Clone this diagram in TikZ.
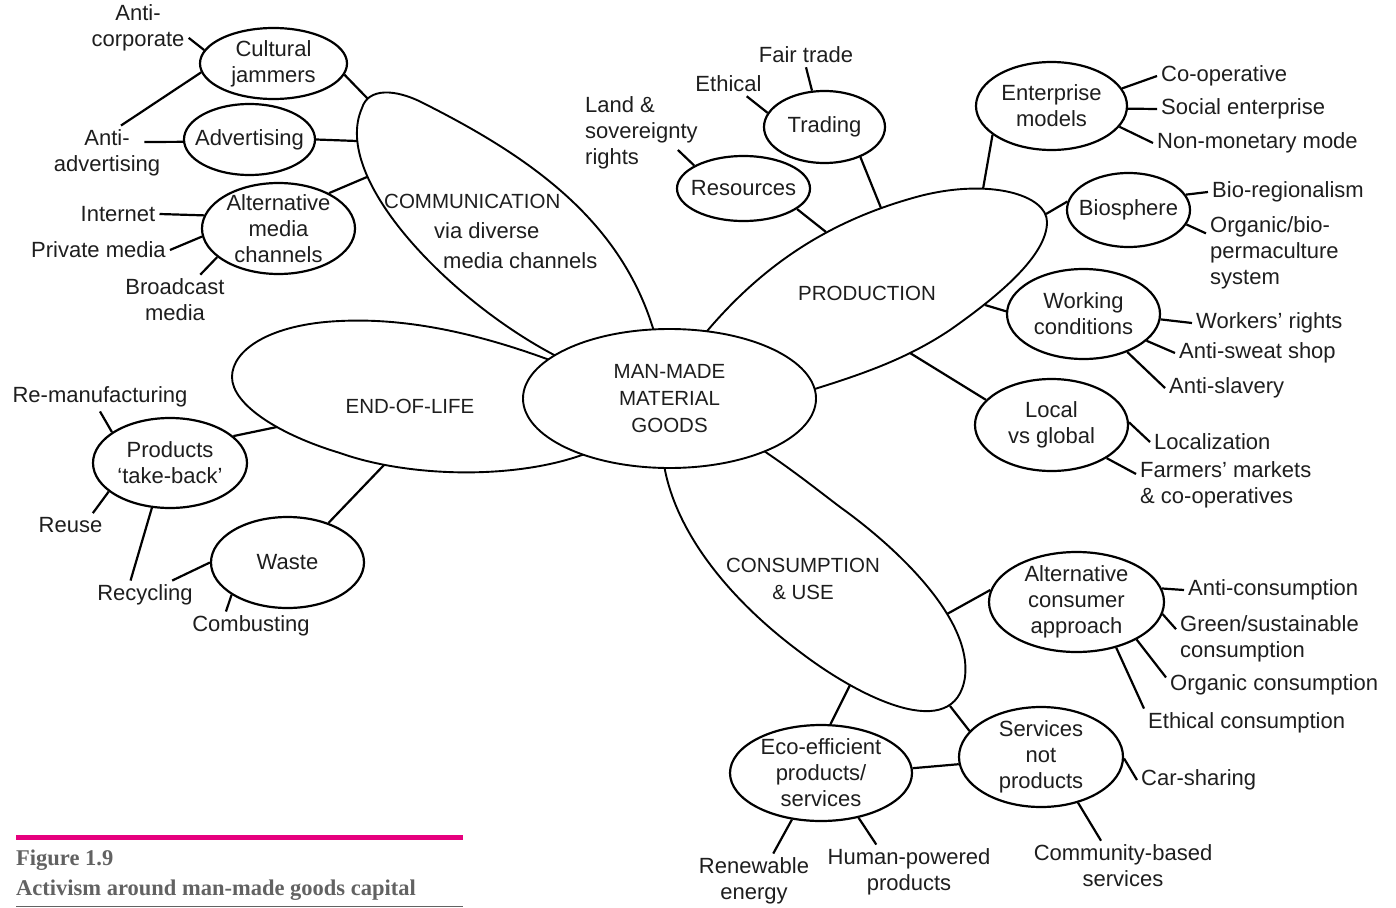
\documentclass[tikz,border=0pt]{standalone}
\usepackage{fontspec}
\setmainfont{Liberation Sans}
\newfontfamily\capfont{Liberation Serif}
\usepackage{xcolor}
\usepackage{tikz}
\usetikzlibrary{shapes.geometric, positioning}

\definecolor{figpink}{RGB}{230,0,126}
\definecolor{capgray}{RGB}{98,98,98}
\definecolor{ink}{RGB}{30,30,30}
\newcommand{\mapfont}{\fontsize{22}{26}\selectfont}
\newcommand{\bigfont}{\fontsize{20.5}{27}\selectfont}

\tikzset{
  bubble/.style={ellipse, draw, line width=2.2pt, fill=white, inner sep=-14pt, align=center},
  esize/.style 2 args={minimum width=#1, minimum height=#2},
  petal/.style={draw, line width=1.9pt, fill=white},
  leaf/.style={inner sep=4pt, align=center},
  lleaf/.style={inner sep=4pt, align=left, anchor=west},
  link/.style={line width=2.2pt},
}

\begin{document}
\begin{tikzpicture}[x=1pt, y=-1pt, font=\mapfont, text=ink]
    \useasboundingbox (0,0) rectangle (1396,907);

    % the four petals round the centre (their inner ends hide under the centre)
    \draw[petal] (620,390) -- (560,358) .. controls (455,305) and (330,180) .. (362,108)
        .. controls (368,88) and (395,88) .. (425,104)
        .. controls (532,158) and (623,222) .. (655,335) -- cycle;
    \draw[petal] (610,420) -- (555,362) .. controls (470,330) and (400,318) .. (340,321)
        .. controls (270,324) and (232,350) .. (232,377)
        .. controls (232,405) and (280,435) .. (340,453)
        .. controls (410,478) and (520,480) .. (590,452) -- cycle;
    \draw[petal] (760,400) -- (698,342) .. controls (760,265) and (830,220) .. (920,196)
        .. controls (990,178) and (1047,195) .. (1047,222)
        .. controls (1047,255) and (1000,295) .. (950,330)
        .. controls (905,360) and (860,375) .. (805,392) -- cycle;
    \draw[petal] (720,430) -- (663,458) .. controls (672,530) and (730,600) .. (800,652)
        .. controls (860,698) and (955,745) .. (965,677)
        .. controls (972,620) and (900,550) .. (840,507)
        .. controls (815,488) and (790,468) .. (755,445) -- cycle;

    \node[bubble, line width=1.9pt, esize={293pt}{139pt}, font=\bigfont] (goods) at (669.5,398.5) {MAN-MADE\\MATERIAL\\GOODS};

    \node[inner sep=0pt, align=left, anchor=west, font=\fontsize{22}{30}\selectfont] (commT) at (384,231)
        {{\bigfont COMMUNICATION}\\\hspace*{50pt}via diverse\\\hspace*{59pt}media channels};
    \node[font=\bigfont] (prodT) at (867,293) {PRODUCTION};
    \node[font=\bigfont] (eolT) at (410,406) {END-OF-LIFE};
    \node[align=center, font=\bigfont] (consT) at (803,579) {CONSUMPTION\\\& USE};

    % where the links meet the petals
    \coordinate (comm-cj) at (368,99);
    \coordinate (comm-adv) at (357,141);
    \coordinate (comm-amc) at (367,177);
    \coordinate (prod-trading) at (881,208);
    \coordinate (prod-res) at (826,232);
    \coordinate (prod-ent) at (983,189);
    \coordinate (prod-bio) at (1046,214);
    \coordinate (prod-work) at (985,305);
    \coordinate (prod-local) at (910,353);
    \coordinate (eol-take) at (277,427);
    \coordinate (eol-waste) at (384,465);
    \coordinate (cons-acons) at (947,614);
    \coordinate (cons-serv) at (950,706);
    \coordinate (cons-eco) at (850,685);

    % bubbles
    \node[bubble, esize={147pt}{71pt}] (cj) at (273.5,63.5) {Cultural\\jammers};
    \node[bubble, esize={131pt}{71pt}] (adv) at (249.5,139.5) {Advertising};
    \node[bubble, esize={153pt}{91pt}] (amc) at (278.5,228.5) {Alternative\\media\\channels};
    \node[bubble, esize={121pt}{72pt}] (trading) at (824.5,127) {Trading};
    \node[bubble, esize={133pt}{65pt}] (res) at (743.5,188.5) {Resources};
    \node[bubble, esize={151pt}{88pt}] (ent) at (1051.5,106) {Enterprise\\models};
    \node[bubble, esize={123pt}{74pt}] (bio) at (1128.5,210) {Biosphere};
    \node[bubble, esize={153pt}{90pt}] (work) at (1083.5,314) {Working\\conditions};
    \node[bubble, esize={153pt}{92pt}] (local) at (1051.5,425) {Local\\vs global};
    \node[bubble, esize={175pt}{100pt}] (acons) at (1076.5,602) {Alternative\\consumer\\approach};
    \node[bubble, esize={164pt}{100pt}] (serv) at (1041,757) {Services\\not\\products};
    \node[bubble, esize={182pt}{96pt}] (eco) at (821,773) {Eco-efficient\\products/\\services};
    \node[bubble, esize={154pt}{90pt}] (take) at (170,463) {Products\\‘take-back’};
    \node[bubble, esize={153pt}{91pt}] (waste) at (287.5,562.5) {Waste};

    % leaves
    \node[leaf] (corp) at (138,28) {Anti-\\corporate};
    \node[leaf] (antiadv) at (107,153) {Anti-\\advertising};
    \node[leaf] (internet) at (118,214) {Internet};
    \node[leaf] (private) at (98.5,250) {Private media};
    \node[leaf] (broadcast) at (175,300) {Broadcast\\media};
    \node[leaf] (fair) at (806,55) {Fair trade};
    \node[leaf] (ethical) at (728.5,84) {Ethical};
    \node[lleaf] (land) at (581,133) {Land \&\\sovereignty\\rights};
    \node[lleaf] (coop) at (1157,76) {Co-operative};
    \node[lleaf] (social) at (1157,109) {Social enterprise};
    \node[lleaf] (nonmon) at (1153,143) {Non-monetary mode};
    \node[lleaf] (bioreg) at (1208,192) {Bio-regionalism};
    \node[lleaf] (organic) at (1206,253) {Organic/bio-\\permaculture\\system};
    \node[lleaf] (wrights) at (1192,323) {Workers’ rights};
    \node[lleaf] (sweat) at (1175,353) {Anti-sweat shop};
    \node[lleaf] (slavery) at (1165,388) {Anti-slavery};
    \node[lleaf] (localiz) at (1150,442) {Localization};
    \node[lleaf] (farmers) at (1136,485) {Farmers’ markets\\\& co-operatives};
    \node[lleaf] (anticons) at (1184,590) {Anti-consumption};
    \node[lleaf] (green) at (1176,639) {Green/sustainable\\consumption};
    \node[lleaf] (orgcons) at (1166,685) {Organic consumption};
    \node[lleaf] (ethcons) at (1144,723) {Ethical consumption};
    \node[lleaf] (carshare) at (1137,780) {Car-sharing};
    \node[leaf] (community) at (1123,866) {Community-based\\services};
    \node[leaf] (renew) at (754,881) {Renewable\\energy};
    \node[leaf] (human) at (909,872) {Human-powered\\products};
    \node[leaf] (reman) at (100,397) {Re-manufacturing};
    \node[leaf] (reuse) at (70.5,525) {Reuse};
    \node[leaf] (recyc) at (145,595) {Recycling};
    \node[leaf] (combust) at (251,626) {Combusting};

    % links
    \draw[link] (cj.169) -- (corp.-11);
    \draw[link] (cj.187) -- (antiadv.63);
    \draw[link] (cj.-9) -- (comm-cj);
    \draw[link] (adv.182) -- ([shift={(-20,-11)}]antiadv.east);
    \draw[link] (adv.0) -- (comm-adv);
    \draw[link] (amc.35) -- (comm-amc);
    \draw[link] (amc.170) -- (internet.east);
    \draw[link] (amc.186) -- (private.east);
    \draw[link] (amc.205) -- (broadcast.45);
    \draw[link] (trading.109) -- (fair.south);
    \draw[link] (trading.166) -- (ethical.-34);
    \draw[link] (trading.-40) -- (prod-trading);
    \draw[link] (res.155) -- ([shift={(-24,17)}]land.east);
    \draw[link] (res.-21) -- (prod-res);
    \draw[link] (ent.206) -- (prod-ent);
    \draw[link] (ent.14) -- (coop.west);
    \draw[link] (ent.-2) -- (social.west);
    \draw[link] (ent.-17) -- (nonmon.west);
    \draw[link] (bio.172) -- (prod-bio);
    \draw[link] (bio.15) -- (bioreg.west);
    \draw[link] (bio.-14) -- (organic.164);
    \draw[link] (work.178) -- (prod-work);
    \draw[link] (work.-4) -- (wrights.west);
    \draw[link] (work.-23) -- (sweat.west);
    \draw[link] (work.-41) -- (slavery.west);
    \draw[link] (local.159) -- (prod-local);
    \draw[link] (local.2) -- (localiz.west);
    \draw[link] (local.-31) -- (farmers.173);
    \draw[link] (acons.172) -- (cons-acons);
    \draw[link] (acons.9) -- (anticons.west);
    \draw[link] (acons.-8) -- (green.174);
    \draw[link] (acons.-32) -- (orgcons.176);
    \draw[link] (acons.-49) -- (ethcons.172);
    \draw[link] (serv.160) -- (cons-serv);
    \draw[link] (serv.-1) -- (carshare.west);
    \draw[link] (serv.-51) -- (community.131);
    \draw[link] (serv.185) -- (eco.3);
    \draw[link] (eco.79) -- (cons-eco);
    \draw[link] (eco.238) -- (renew.55);
    \draw[link] (eco.-50) -- (human.140);
    \draw[link] (take.23) -- (eol-take);
    \draw[link] (take.152) -- (reman.south);
    \draw[link] (take.205) -- (reuse.28);
    \draw[link] (take.248) -- (recyc.135);
    \draw[link] (waste.44) -- (eol-waste);
    \draw[link] (waste.180) -- (recyc.28);
    \draw[link] (waste.210) -- (combust.150);

    % caption
    \draw[figpink, line width=5pt] (16,837) -- (463,837);
    \node[anchor=base west, inner sep=0pt, text=capgray, font=\capfont\bfseries\fontsize{22.5}{27}\selectfont] (figno) at (16,865) {Figure 1.9};
    \node[anchor=base west, inner sep=0pt, text=capgray, font=\capfont\bfseries\fontsize{22.5}{27}\selectfont] (figtitle) at (16,895) {Activism around man-made goods capital};
    \draw[capgray, line width=1pt] (16,906) -- (463,906);
\end{tikzpicture}
\end{document}
